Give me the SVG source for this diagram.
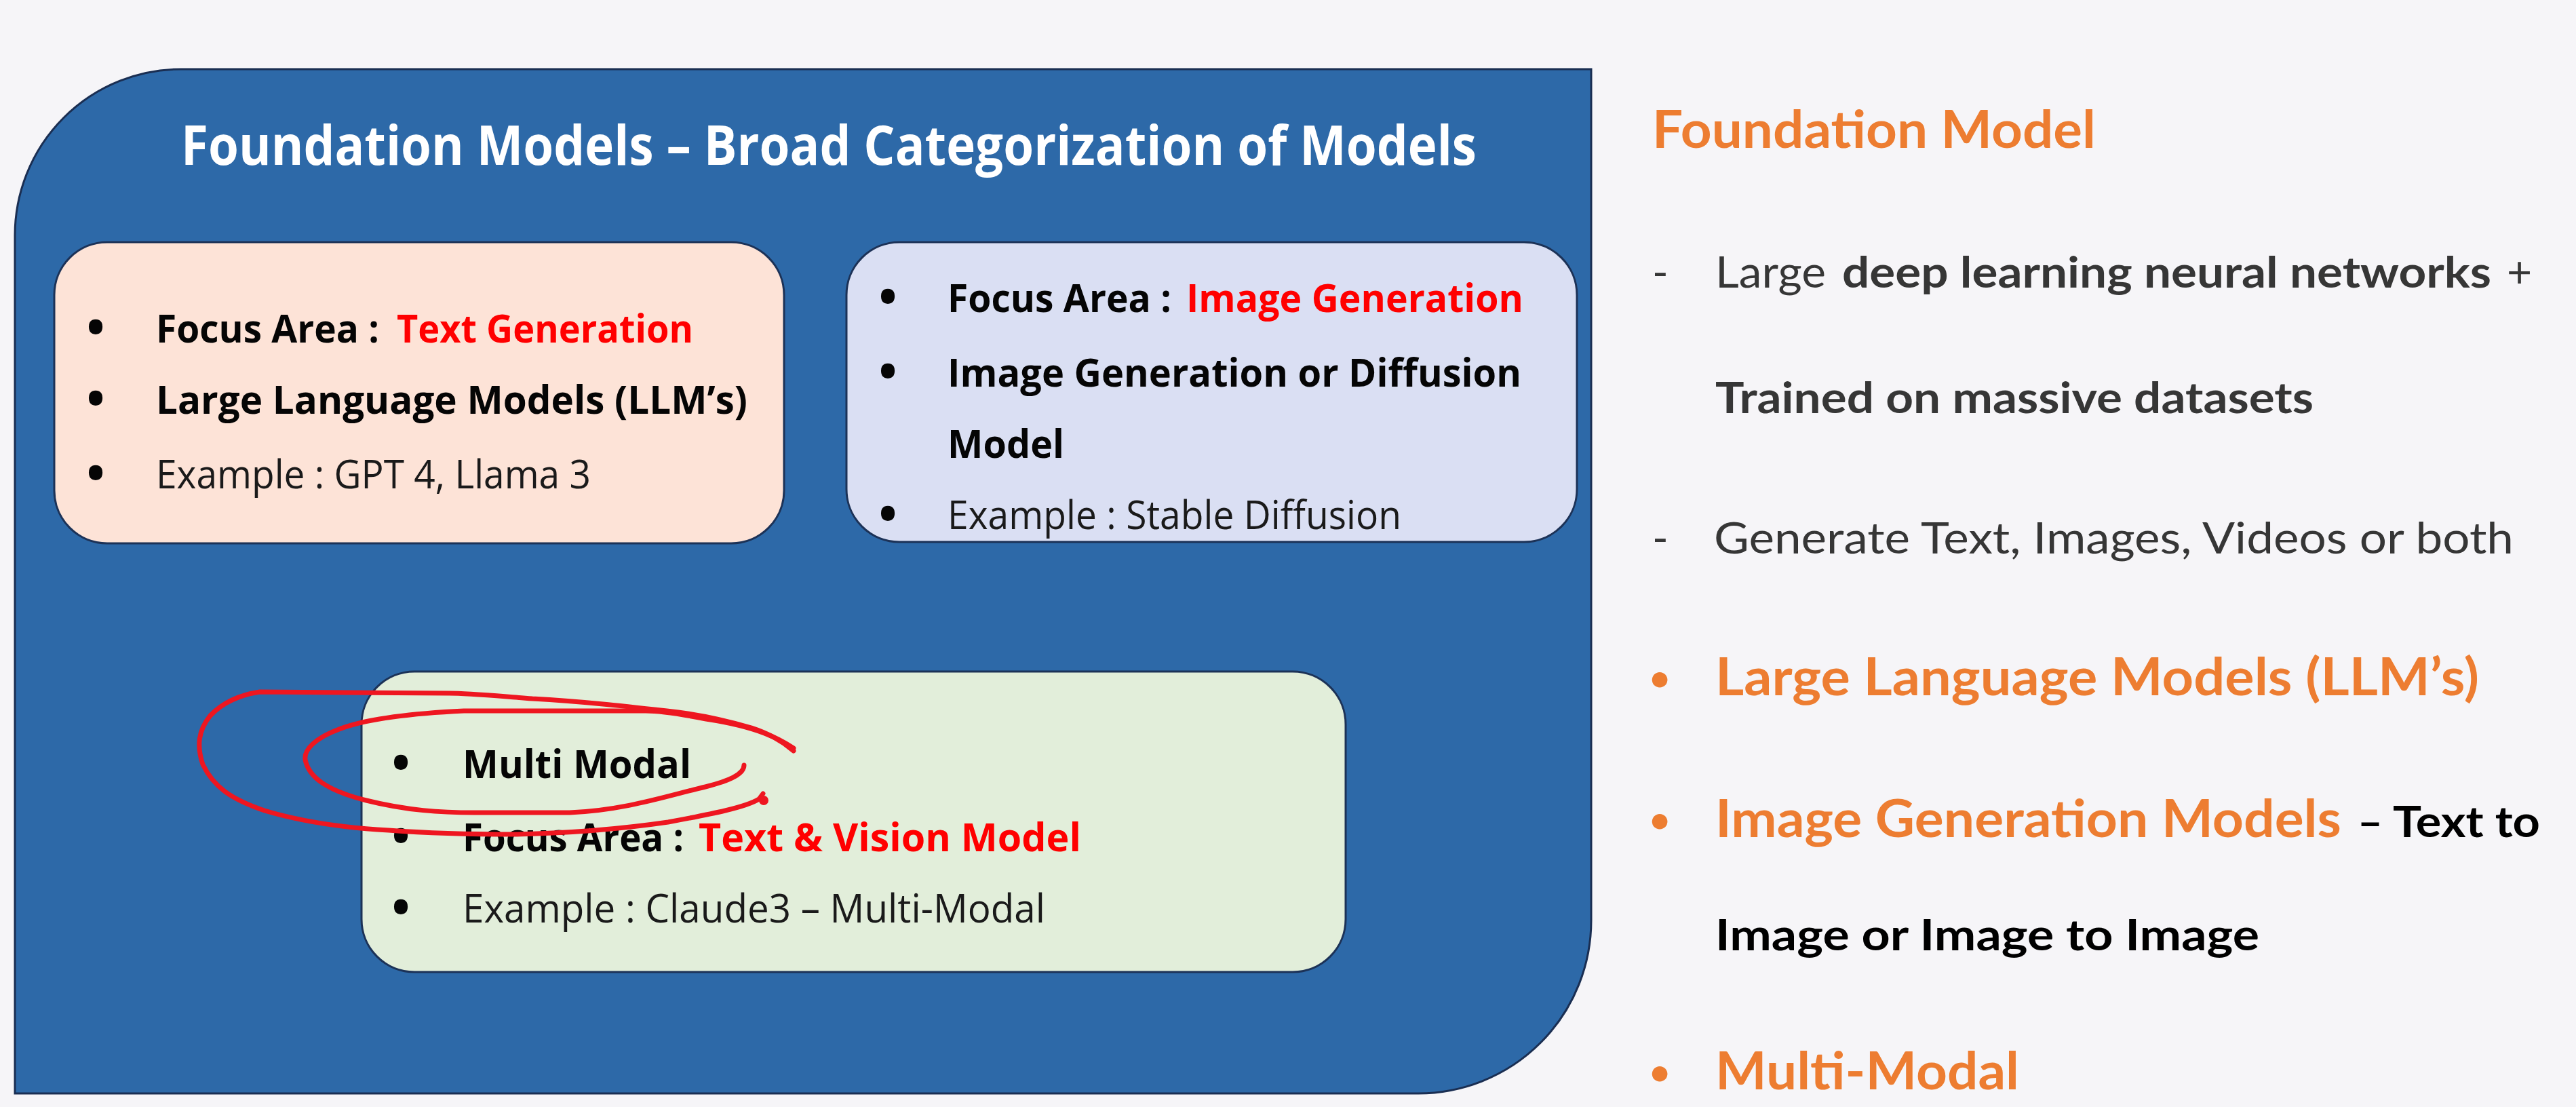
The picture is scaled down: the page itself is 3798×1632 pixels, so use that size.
<svg xmlns="http://www.w3.org/2000/svg" width="3798" height="1632" viewBox="0 0 3798 1632">
  <style>
    .seg { font-family: "Open Sans", "Noto Sans", "DejaVu Sans", sans-serif; font-size: 58px; }
    .b { font-weight: 700; }
    .blk { fill: #050505; }
    .red { fill: #FF0000; }
    .reg { fill: #1A1A1A; font-weight: 400; }
    .dot { font-family: "Open Sans", "DejaVu Sans", sans-serif; font-size: 72px; font-weight: 700; fill: #050505; text-anchor: middle; }
    .title { font-family: "Open Sans", "Noto Sans", sans-serif; font-size: 80px; font-weight: 700; fill: #FFFFFF; }
    .card { stroke: #1C3257; stroke-width: 3; }
    .rc { font-family: Lato, "Open Sans", sans-serif; }
    .or { fill: #ED7D31; font-weight: 700; font-size: 76px; }
    .odot { fill: #ED7D31; font-weight: 700; font-size: 52px; text-anchor: middle; }
    .dk { fill: #363636; font-size: 64px; }
    .bk { fill: #000000; font-size: 64px; font-weight: 700; }
    .ink { fill: none; stroke: #EE1620; stroke-width: 7; stroke-linecap: round; stroke-linejoin: round; }
  </style>

  <rect x="0" y="0" width="3798" height="1632" fill="#F6F5F8"/>

  <!-- outer panel: rounded top-left and bottom-right corners -->
  <g id="panel">
    <path d="M267,102 H2346 V1357 A255,255 0 0 1 2091,1612 H22 V347 A245,245 0 0 1 267,102 Z" fill="#2D69A8" stroke="#1A2E52" stroke-width="3"/>
    <text class="title" x="267" y="243" textLength="1910" lengthAdjust="spacingAndGlyphs">Foundation Models – Broad Categorization of Models</text>
  </g>

  <!-- text generation card -->
  <g id="card-llm">
    <rect class="card" x="80" y="357" width="1076" height="444" rx="78" ry="78" fill="#FDE3D7"/>
    <text class="dot" x="141" y="508">•</text>
    <text class="seg b blk" x="230" y="505" textLength="329" lengthAdjust="spacingAndGlyphs">Focus Area :</text>
    <text class="seg b red" x="585" y="505" textLength="437" lengthAdjust="spacingAndGlyphs">Text Generation</text>
    <text class="dot" x="141" y="613">•</text>
    <text class="seg b blk" x="230" y="610" textLength="872" lengthAdjust="spacingAndGlyphs">Large Language Models (LLM’s)</text>
    <text class="dot" x="141" y="723">•</text>
    <text class="seg reg" x="230" y="720" textLength="641" lengthAdjust="spacingAndGlyphs">Example : GPT 4, Llama 3</text>
  </g>

  <!-- image generation card -->
  <g id="card-image">
    <rect class="card" x="1248" y="357" width="1077" height="442" rx="78" ry="78" fill="#DADFF3"/>
    <text class="dot" x="1309" y="463">•</text>
    <text class="seg b blk" x="1397" y="460" textLength="330" lengthAdjust="spacingAndGlyphs">Focus Area :</text>
    <text class="seg b red" x="1749" y="460" textLength="497" lengthAdjust="spacingAndGlyphs">Image Generation</text>
    <text class="dot" x="1309" y="573">•</text>
    <text class="seg b blk" x="1397" y="570" textLength="846" lengthAdjust="spacingAndGlyphs">Image Generation or Diffusion</text>
    <text class="seg b blk" x="1397" y="675" textLength="172" lengthAdjust="spacingAndGlyphs">Model</text>
    <text class="dot" x="1309" y="783">•</text>
    <text class="seg reg" x="1397" y="780" textLength="669" lengthAdjust="spacingAndGlyphs">Example : Stable Diffusion</text>
  </g>

  <!-- multi-modal card -->
  <g id="card-multimodal">
    <rect class="card" x="533" y="990" width="1451" height="443" rx="78" ry="78" fill="#E2EEDA"/>
    <text class="dot" x="591" y="1150">•</text>
    <text class="seg b blk" x="682" y="1147" textLength="337" lengthAdjust="spacingAndGlyphs">Multi Modal</text>
    <text class="dot" x="591" y="1258">•</text>
    <text class="seg b blk" x="682" y="1255" textLength="326" lengthAdjust="spacingAndGlyphs">Focus Area :</text>
    <text class="seg b red" x="1030" y="1255" textLength="564" lengthAdjust="spacingAndGlyphs">Text &amp; Vision Model</text>
    <text class="dot" x="591" y="1363">•</text>
    <text class="seg reg" x="682" y="1360" textLength="859" lengthAdjust="spacingAndGlyphs">Example : Claude3 – Multi-Modal</text>
  </g>

  <!-- hand-drawn circling around "Multi Modal" -->
  <g id="annotation">
    <path class="ink" d="M1170,1103 C1150,1090 1120,1072 1041,1060 C1000,1052 970,1048 952,1048 L684,1048 C600,1052 539,1060 500,1075 C465,1088 448,1105 450,1120 C455,1145 480,1165 540,1180 C600,1195 650,1198 700,1198 L840,1198 C920,1195 985,1173 1040,1160 C1080,1150 1097,1140 1097,1128"/>
    <path class="ink" d="M1170,1107 C1150,1090 1130,1080 1108,1073 C1070,1062 1040,1055 1000,1050 C930,1042 860,1034 785,1030 C720,1025 690,1022 662,1022 L383,1020 C350,1025 327,1037 310,1055 C292,1077 290,1100 299,1127 C315,1160 340,1178 390,1195 C440,1210 500,1220 573,1224 C640,1229 700,1230 760,1230 C850,1228 930,1220 985,1212 C1050,1200 1100,1190 1119,1178 L1125,1170"/>
    <circle cx="1126" cy="1180" r="7" fill="#EE1620"/>
  </g>

  <!-- explanatory notes on the right -->
  <g id="notes" class="rc">
    <text class="rc or" x="2436" y="218" textLength="654" lengthAdjust="spacingAndGlyphs">Foundation Model</text>

    <text class="rc dk" x="2436" y="424">-</text>
    <text class="rc dk" x="2529" y="424" textLength="163" lengthAdjust="spacingAndGlyphs">Large</text>
    <text class="rc dk" x="2716" y="424" font-weight="700" textLength="957" lengthAdjust="spacingAndGlyphs">deep learning neural networks</text>
    <text class="rc dk" x="3696" y="424">+</text>
    <text class="rc dk" x="2529" y="609" font-weight="700" textLength="882" lengthAdjust="spacingAndGlyphs">Trained on massive datasets</text>

    <text class="rc dk" x="2436" y="816">-</text>
    <text class="rc dk" x="2527" y="816" textLength="1179" lengthAdjust="spacingAndGlyphs">Generate Text, Images, Videos or both</text>

    <text class="rc odot" x="2447" y="1018">•</text>
    <text class="rc or" x="2529" y="1025" textLength="1126" lengthAdjust="spacingAndGlyphs">Large Language Models (LLM’s)</text>

    <text class="rc odot" x="2447" y="1227">•</text>
    <text class="rc or" x="2529" y="1234" textLength="923" lengthAdjust="spacingAndGlyphs">Image Generation Models</text>
    <text class="rc bk" x="3476" y="1234">–</text>
    <text class="rc bk" x="3528" y="1234" textLength="217" lengthAdjust="spacingAndGlyphs">Text to</text>
    <text class="rc bk" x="2529" y="1401" textLength="802" lengthAdjust="spacingAndGlyphs">Image or Image to Image</text>

    <text class="rc odot" x="2447" y="1599">•</text>
    <text class="rc or" x="2529" y="1606" textLength="448" lengthAdjust="spacingAndGlyphs">Multi-Modal</text>
  </g>
</svg>
